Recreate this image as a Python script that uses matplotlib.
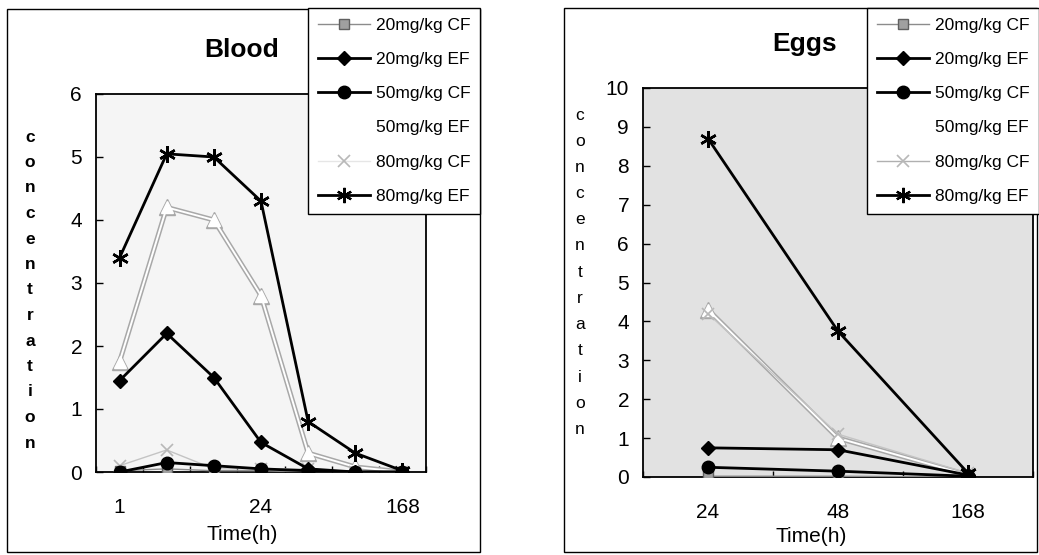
import numpy as np
import matplotlib
matplotlib.use("Agg")
import matplotlib.pyplot as plt
from matplotlib.lines import Line2D
from matplotlib.patches import Rectangle

plt.rcParams["font.family"] = ["Liberation Sans", "DejaVu Sans"]

W, H = 1039, 555

# ---- data ----
SERIES = ["20mg/kg CF", "20mg/kg EF", "50mg/kg CF", "50mg/kg EF", "80mg/kg CF", "80mg/kg EF"]

blood_time = ["1", "", "", "24", "", "", "168"]
blood_20cf = [0.02, 0.05, 0.02, 0.02, 0.0, 0.0, 0.0]
blood_20ef = [1.45, 2.2, 1.5, 0.47, 0.05, 0.0, 0.0]
blood_50cf = [0.0, 0.15, 0.1, 0.05, 0.02, 0.0, 0.0]
blood_50ef = [1.75, 4.2, 4.0, 2.8, 0.3, 0.08, 0.0]
blood_80cf = [0.1, 0.35, 0.05, 0.05, 0.05, 0.0, 0.0]
blood_80ef = [3.4, 5.05, 5.0, 4.3, 0.8, 0.3, 0.02]

eggs_time = ["24", "48", "168"]
eggs_20cf = [0.02, 0.02, 0.0]
eggs_20ef = [0.75, 0.7, 0.05]
eggs_50cf = [0.25, 0.15, 0.02]
eggs_50ef = [4.3, 1.0, 0.05]
eggs_80cf = [4.2, 1.1, 0.1]
eggs_80ef = [8.7, 3.75, 0.1]


def px(x, y):
    return x / W, 1 - y / H


def draw(ax, cats, vals, ymax, bg):
    x = np.arange(len(cats))
    s20cf, s20ef, s50cf, s50ef, s80cf, s80ef = vals
    ax.set_facecolor(bg)
    ax.plot(x, s20cf, color="#8c8c8c", lw=1.0, marker="s", ms=7, mfc="#a0a0a0", mec="#606060", zorder=3)
    ax.plot(x, s20ef, color="black", lw=2.0, marker="D", ms=7, mfc="black", mec="black", zorder=4)
    ax.plot(x, s50cf, color="black", lw=2.0, marker="o", ms=9, mfc="black", mec="black", zorder=4)
    # white series: grey rim underneath, white on top
    ax.plot(x, s50ef, color="#a8a8a8", lw=3.6, marker="^", ms=11, mfc="#a8a8a8", mec="#a8a8a8", zorder=2)
    ax.plot(x, s50ef, color="white", lw=1.4, marker="^", ms=8, mfc="white", mec="white", zorder=2)
    ax.plot(x, s80cf, color="#c4c4c4", lw=1.0, marker="x", ms=8, mew=1.2, mec="#b8b8b8", zorder=3)
    ax.plot(x, s80ef, color="black", lw=2.0, marker=(6, 2, 0), ms=12, mew=1.8, mec="black", zorder=5)
    ax.set_xlim(-0.5, len(cats) - 0.5)
    ax.set_ylim(0, ymax)
    ax.set_yticks(range(0, ymax + 1))
    ax.set_xticks(x)
    ax.set_xticklabels(cats)
    ax.set_xticks(np.arange(len(cats) + 1) - 0.5, minor=True)
    ax.tick_params(axis="x", which="major", length=0, pad=19, labelsize=15)
    ax.tick_params(axis="x", which="minor", direction="in", length=4, width=1)
    ax.tick_params(axis="y", direction="in", length=5, width=1, labelsize=15, pad=10)
    for sp in ax.spines.values():
        sp.set_linewidth(1.3)
        sp.set_color("black")


fig = plt.figure(figsize=(W / 100, H / 100), dpi=100)

# outer chart boxes
for (x0, y0, x1, y1) in [(7, 9, 480, 552), (564, 8, 1037, 552)]:
    fig.patches.append(Rectangle(px(x0, y1), (x1 - x0) / W, (y1 - y0) / H, transform=fig.transFigure,
                                 fill=False, ec="black", lw=1.0, zorder=0))

ax1 = fig.add_axes([96 / W, 1 - 472 / H, 330 / W, 378 / H])
draw(ax1, blood_time, [blood_20cf, blood_20ef, blood_50cf, blood_50ef, blood_80cf, blood_80ef], 6, "#f5f5f5")
ax2 = fig.add_axes([643 / W, 1 - 477 / H, 390 / W, 389 / H])
draw(ax2, eggs_time, [eggs_20cf, eggs_20ef, eggs_50cf, eggs_50ef, eggs_80cf, eggs_80ef], 10, "#e2e2e2")

fig.text(*px(242, 50), "Blood", fontsize=19, fontweight="bold", ha="center", va="center")
fig.text(*px(805, 44), "Eggs", fontsize=19, fontweight="bold", ha="center", va="center")
fig.text(*px(242, 535), "Time(h)", fontsize=15, ha="center", va="center")
fig.text(*px(811, 537), "Time(h)", fontsize=15, ha="center", va="center")

word = "concentration"
for i, ch in enumerate(word):
    fig.text(*px(30, 137 + i * 25.5), ch, fontsize=12.5, fontweight="bold", ha="center", va="center")
    fig.text(*px(580, 115 + i * 26.2), ch, fontsize=12.5, ha="center", va="center")


def handles(light80):
    return [
        Line2D([], [], color="#8c8c8c", lw=1.0, marker="s", ms=7, mfc="#a0a0a0", mec="#606060"),
        Line2D([], [], color="black", lw=2.0, marker="D", ms=7, mfc="black", mec="black"),
        Line2D([], [], color="black", lw=2.0, marker="o", ms=9, mfc="black", mec="black"),
        Line2D([], [], color="white", lw=1.4, marker="^", ms=8, mfc="white", mec="white"),
        Line2D([], [], color=light80, lw=1.0, marker="x", ms=8, mew=1.2, mec="#b8b8b8"),
        Line2D([], [], color="black", lw=2.0, marker=(6, 2, 0), ms=11, mew=1.6, mec="black"),
    ]


for (light, anchor) in [("#e6e6e6", px(480, 8)), ("#b0b0b0", px(1039, 8))]:
    leg = fig.legend(handles(light), SERIES, loc="upper right", bbox_to_anchor=anchor,
                     bbox_transform=fig.transFigure, fontsize=12.5, frameon=True, fancybox=False,
                     edgecolor="black", facecolor="white", framealpha=1, handlelength=3.0,
                     handletextpad=0.35, labelspacing=1.1, borderpad=0.55, borderaxespad=0)
    leg.get_frame().set_linewidth(1.0)

fig.savefig("out.png", dpi=100)
